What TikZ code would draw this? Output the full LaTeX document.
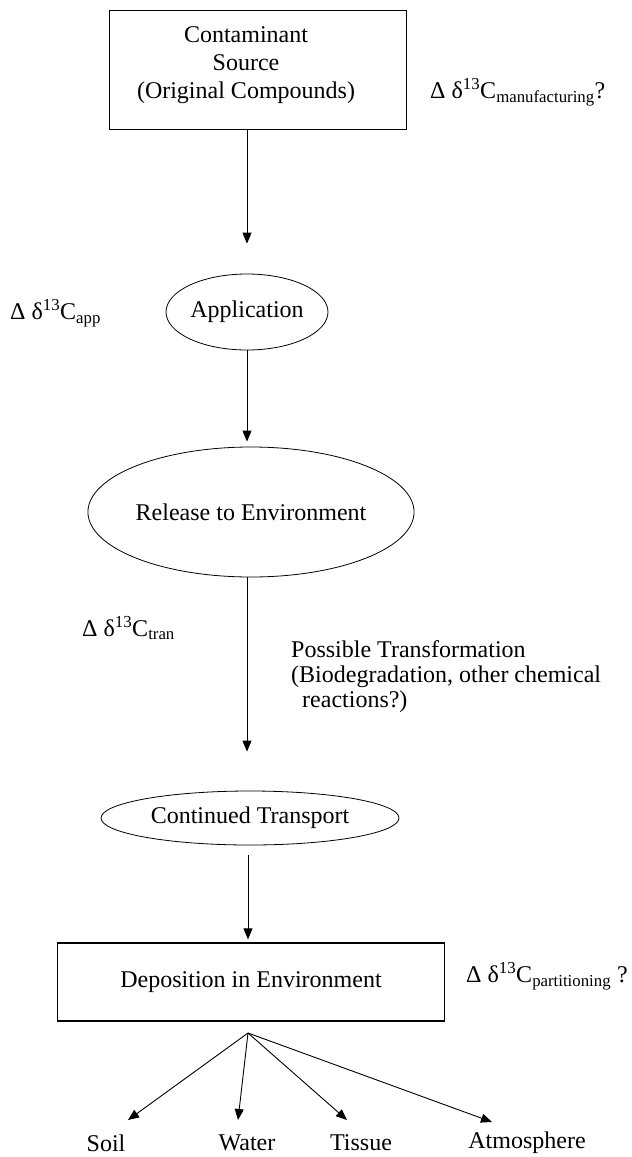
\documentclass[tikz,border=0pt]{standalone}
\usepackage{fontspec}
\setmainfont{Liberation Serif}
\usetikzlibrary{shapes.geometric,arrows.meta}
\tikzset{>={Triangle[length=11pt,width=9pt]}}
\tikzset{
  boxnode/.style={draw, line width=1.2pt, inner sep=0pt, align=center},
  ovalnode/.style={draw, ellipse, line width=0.8pt, inner sep=0pt},
  note/.style={anchor=west, inner sep=0pt},
  sink/.style={inner sep=0pt},
  flow/.style={->, line width=0.9pt}
}

\begin{document}
\begin{tikzpicture}[x=1pt, y=-1pt, font=\fontsize{24}{25}\selectfont]
    \useasboundingbox (0,0) rectangle (632,1157);
    % chain of stages
    \node[boxnode, minimum width=297pt, minimum height=119pt] (source) at (258,70) {};
    \node[align=center, inner sep=0pt, font=\fontsize{24}{28}\selectfont] (sourcetext) at (246,65) {Contaminant\\Source\\(Original Compounds)};
    \node[ovalnode, minimum width=162pt, minimum height=76pt] (app) at (247,312) {Application};
    \node[ovalnode, minimum width=306pt, minimum height=130pt] (release) at (251,512) {Release to Environment};
    \node[ovalnode, minimum width=298pt, minimum height=54pt] (transport) at (250,818) {Continued Transport};
    \node[boxnode, minimum width=387pt, minimum height=78pt] (deposit) at (251,982) {Deposition in Environment};
    % isotope shifts
    \node[note] (dmanu) at (430,92) {Δ δ\textsuperscript{13}C\textsubscript{manufacturing}?};
    \node[note] (dapp) at (10,313) {Δ δ\textsuperscript{13}C\textsubscript{app}};
    \node[note] (dtran) at (82,628) {Δ δ\textsuperscript{13}C\textsubscript{tran}};
    \node[note, anchor=north west, align=left] (transf) at (291,640) {Possible Transformation\\(Biodegradation, other chemical\\\hspace*{11pt}reactions?)};
    \node[note] (dpart) at (466,976) {Δ δ\textsuperscript{13}C\textsubscript{partitioning} ?};
    % sinks
    \node[sink] (soil) at (106,1143) {Soil};
    \node[sink] (water) at (247,1143) {Water};
    \node[sink] (tissue) at (361,1143) {Tissue};
    \node[sink] (atmo) at (527,1143) {Atmosphere};
    \coordinate (fan) at (248,1033);
    \coordinate (soiltip) at (128,1120);
    \coordinate (watertip) at (238,1120);
    \coordinate (tissuetip) at (347,1120);
    \coordinate (atmotip) at (492,1122);

    \draw[flow, shorten >=30pt] (source.south -| app.north) -- (app.north);
    \draw[flow, shorten >=5pt] (app.south) -- (app.south |- release.north);
    \draw[flow, shorten >=39pt] (release.south -| app.south) -- (app.south |- transport.north);
    \draw[flow, shorten <=10pt, shorten >=3pt] (transport.south -| fan) -- (deposit.north -| fan);
    \draw[flow] (fan) -- (soiltip);
    \draw[flow] (fan) -- (watertip);
    \draw[flow] (fan) -- (tissuetip);
    \draw[flow] (fan) -- (atmotip);
\end{tikzpicture}
\end{document}
